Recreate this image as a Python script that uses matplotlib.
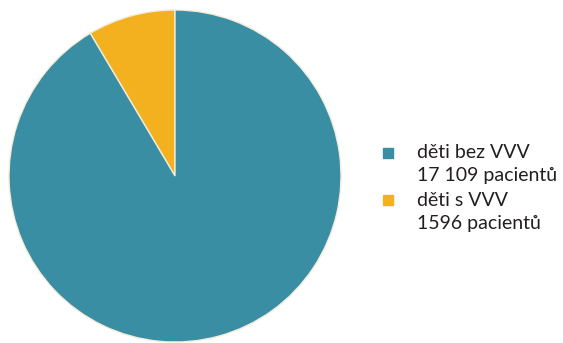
import matplotlib.pyplot as plt
from matplotlib.patches import Rectangle

# patient counts
labels = ["děti s VVV", "děti bez VVV"]
counts = [1596, 17109]
count_labels = ["1596 pacientů", "17 109 pacientů"]
colors = ["#f4b11f", "#3a8ea4"]

legend_order = [1, 0]

fig = plt.figure(figsize=(5.63, 3.43), dpi=100)
plt.rcParams["font.family"] = ["Lato", "DejaVu Sans"]

W, H = 563, 343
# pie centre ~ (175, 176) px, radius ~166 px
ax = fig.add_axes([9 / W, 1 - 342 / H, 332 / W, 332 / H])
ax.pie(counts, colors=colors, startangle=90, counterclock=True,
       wedgeprops=dict(edgecolor="#f3ecd8", linewidth=1.0))
ax.set_xlim(-1, 1)
ax.set_ylim(-1, 1)
ax.set_aspect("equal")
ax.axis("off")

# legend drawn by hand in figure pixel coords
for row, i in enumerate(legend_order):
    ytop = 153 + row * 47
    fig.patches.append(Rectangle((383 / W, 1 - (ytop + 5) / H), 10 / W, 10 / H,
                                 transform=fig.transFigure, color=colors[i]))
    fig.text(417 / W, 1 - ytop / H, labels[i], fontsize=14, va="center", color="#231f20")
    fig.text(417 / W, 1 - (ytop + 23) / H, count_labels[i], fontsize=14, va="center",
             color="#231f20")

fig.savefig("out.png", dpi=100)
